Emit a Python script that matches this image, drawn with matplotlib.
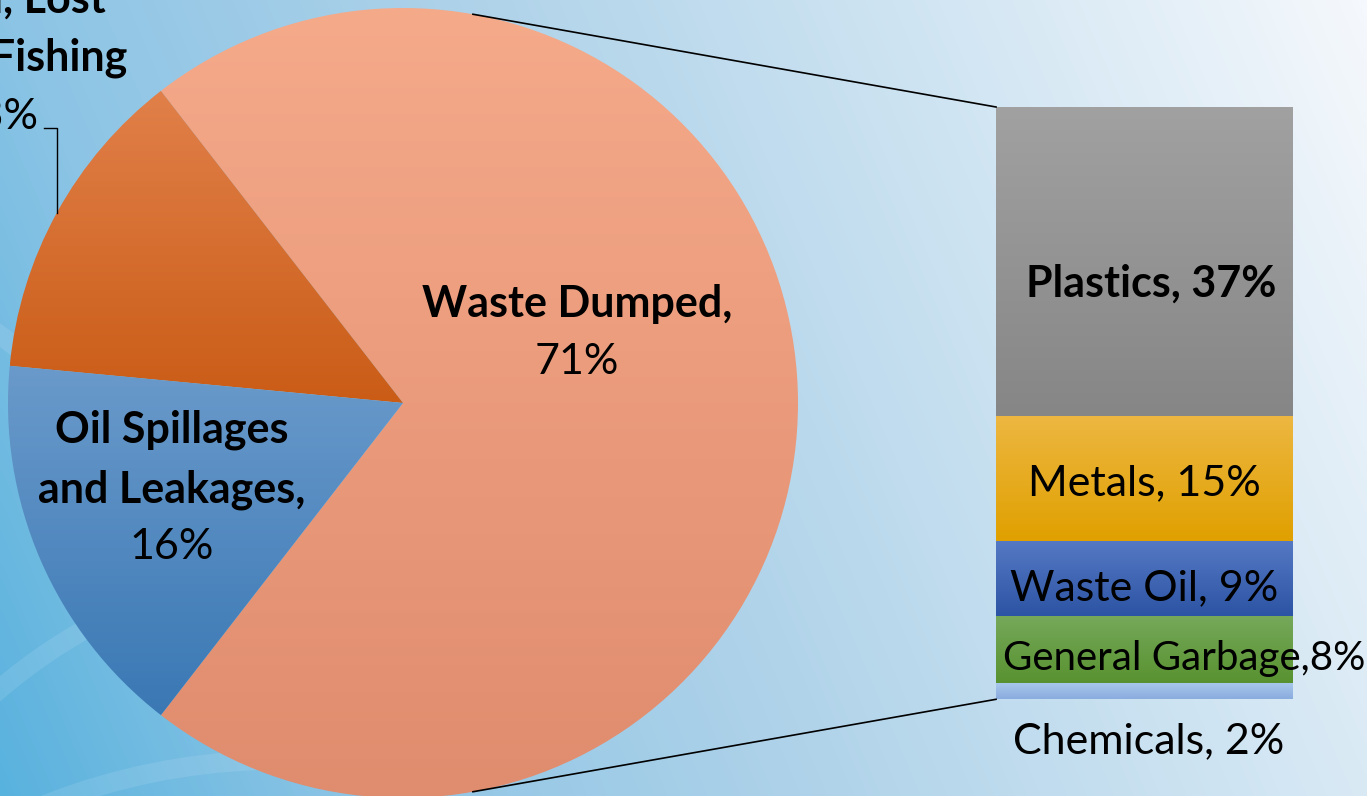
import numpy as np
import matplotlib
matplotlib.use("Agg")
import matplotlib.pyplot as plt
from matplotlib.colors import LinearSegmentedColormap
from matplotlib.patches import Arc

# ---------------- data ----------------
pie_labels = ["Waste Dumped", "Abandoned, Lost or Discarded Fishing Gear", "Oil Spillages and Leakages"]
pie_values = [71, 13, 16]
bar_labels = ["Plastics", "Metals", "Waste Oil", "General Garbage", "Chemicals"]
bar_values = [37, 15, 9, 8, 2]

# ---------------- styles ----------------
pie_grad = [((245, 170, 138), (224, 140, 110)),
            ((225, 128, 74), (202, 92, 22)),
            ((106, 154, 203), (58, 120, 180))]
bar_grad = [((161, 161, 161), (134, 134, 134)),
            ((237, 183, 66), (224, 160, 0)),
            ((86, 121, 196), (44, 84, 164)),
            ((118, 168, 90), (88, 146, 48)),
            ((170, 201, 237), (138, 172, 222))]

plt.rcParams['font.family'] = ['Lato', 'DejaVu Sans']
FS = 31

W, H = 1367, 796
fig = plt.figure(figsize=(W / 100, H / 100), dpi=100)
ax = fig.add_axes([0, 0, 1, 1])

# ---------------- background ----------------
bg_cmap = LinearSegmentedColormap.from_list(
    "bg", [(0.0, (88/255, 178/255, 222/255)),
           (0.2, (140/255, 196/255, 229/255)),
           (0.47, (174/255, 210/255, 233/255)),
           (0.78, (214/255, 232/255, 244/255)),
           (1.0, (245/255, 248/255, 252/255))])
xx, yy = np.meshgrid(np.linspace(0, 1, 400), np.linspace(0, 1, 240))
s = 0.8 * xx + 0.2 * (1 - yy)
ax.imshow(s, cmap=bg_cmap, extent=(0, W, 0, H), origin='upper', aspect='auto',
          zorder=0, vmin=0, vmax=1, interpolation='bicubic')
for (acx, acy, r, t1, t2) in [(350, 1100, 540, 110, 165), (280, 1400, 640, 92, 130),
                              (-300, 760, 520, 20, 75)]:
    ax.add_patch(Arc((acx, H - acy), 2 * r, 2 * r, theta1=t1, theta2=t2, lw=14,
                     color='white', alpha=0.1, zorder=1))


def grad_fill(a, patch, top, bottom, z):
    path = patch.get_path().transformed(patch.get_patch_transform())
    bb = path.get_extents()
    t = np.linspace(0, 1, 256)[:, None, None]
    c0 = np.array(top) / 255.0
    c1 = np.array(bottom) / 255.0
    img = c0 * (1 - t) + c1 * t
    im = a.imshow(img, extent=(bb.x0, bb.x1, bb.y0, bb.y1), origin='upper',
                  aspect='auto', zorder=z, interpolation='bilinear')
    im.set_clip_path(patch)
    patch.set_facecolor('none')
    patch.set_edgecolor('none')


# ---------------- pie ----------------
cx, cy, R = 403, H - 403, 395
wedges, _ = ax.pie(pie_values, center=(cx, cy), radius=R,
                   startangle=-pie_values[0] / 100 * 180, counterclock=True,
                   wedgeprops=dict(linewidth=0))
for w, (t, b) in zip(wedges, pie_grad):
    w.set_zorder(2)
    grad_fill(ax, w, t, b, 2)

# ---------------- bar (breakdown) ----------------
bx0, bx1, by_top, by_bot = 996, 1293, 107, 699.3
bax = fig.add_axes([bx0 / W, (H - by_bot) / H, (bx1 - bx0) / W, (by_bot - by_top) / H])
bax.set_xlim(0, 1)
bax.set_ylim(0, sum(bar_values))
bax.axis('off')
order = list(range(len(bar_values)))[::-1]  # Chemicals at bottom
bottom = 0
for i in order:
    rect = bax.bar(0.5, bar_values[i], width=1, bottom=bottom, linewidth=0)[0]
    grad_fill(bax, rect, bar_grad[i][0], bar_grad[i][1], 2)
    bottom += bar_values[i]

# ---------------- overlay for lines and labels ----------------
ov = fig.add_axes([0, 0, 1, 1])
ov.set_xlim(0, W)
ov.set_ylim(0, H)
ov.axis('off')
ov.patch.set_alpha(0)

ang = np.deg2rad(79.8)
ov.plot([cx + R * np.cos(ang), bx0], [cy + R * np.sin(ang), H - by_top], color='black', lw=1.2)
ov.plot([cx + R * np.cos(-ang), bx0], [cy + R * np.sin(-ang), H - by_bot], color='black', lw=1.2)
# leader line for the fishing-gear label
ov.plot([44, 57, 57], [H - 128, H - 128, H - 213], color='black', lw=1)


def txt(x, ybase, s, bold=False, ha='center', size=FS):
    ov.text(x, H - ybase, s, ha=ha, va='baseline', fontsize=size,
            fontweight='bold' if bold else 'normal', color='black')


# pie labels
txt(577, 317, pie_labels[0] + ",", bold=True)
txt(577, 374, f"{pie_values[0]}%")
txt(172, 443, "Oil Spillages", bold=True)
txt(172, 502, "and Leakages,", bold=True)
txt(172, 559, f"{pie_values[2]}%")
txt(106, 13, "Abandoned, Lost", bold=True, ha='right')
txt(127, 70, "or Discarded Fishing", bold=True, ha='right')
txt(38, 128, f"Gear, {pie_values[1]}%", ha='right')

# bar labels
txt(1151, 297, f"{bar_labels[0]}, {bar_values[0]}%", bold=True)
txt(1144, 495, f"{bar_labels[1]}, {bar_values[1]}%")
txt(1144, 600, f"{bar_labels[2]}, {bar_values[2]}%")
txt(1184, 670, f"{bar_labels[3]},{bar_values[3]}%", size=29)
txt(1149, 753, f"{bar_labels[4]}, {bar_values[4]}%")

ax.set_xlim(0, W)
ax.set_ylim(0, H)
ax.set_aspect('auto')
ax.axis('off')

fig.savefig("out.png", dpi=100)
